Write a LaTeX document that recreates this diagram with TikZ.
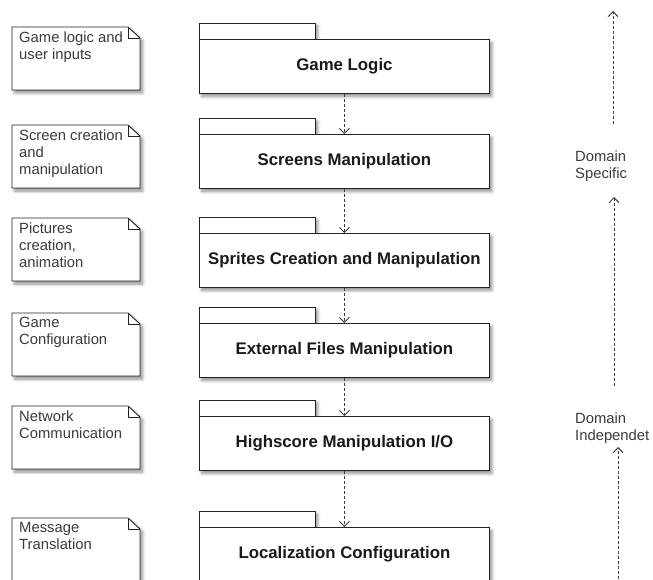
\documentclass[tikz,border=0pt]{standalone}
\usepackage{fontspec}
\setmainfont{Liberation Sans}
\usetikzlibrary{arrows.meta,shadows.blur}

\definecolor{edge}{HTML}{222222}
\definecolor{ink}{HTML}{1A1A1A}
\definecolor{notegray}{HTML}{3A3A3A}
\definecolor{flowgray}{HTML}{3C3C3C}

\tikzset{
  softshadow/.style={blur shadow={shadow xshift=2.5pt,shadow yshift=-3pt,
      shadow blur radius=3pt,shadow blur steps=8,shadow opacity=45}},
  pkgbody/.style={draw=edge,fill=white,line width=0.9pt,minimum width=290pt,
      minimum height=54pt,inner sep=0pt,anchor=north west,
      font=\fontsize{16.8}{20}\selectfont\bfseries,text=ink,softshadow},
  pkgtab/.style={draw=edge,fill=white,line width=0.9pt,softshadow},
  noteshape/.style={draw=edge,fill=white,line width=0.9pt,softshadow},
  notefold/.style={draw=edge,line width=0.9pt},
  notetext/.style={anchor=north west,inner sep=0pt,align=left,
      font=\fontsize{14.8}{17}\selectfont,text=notegray},
  sidelabel/.style={anchor=north west,inner sep=0pt,align=left,
      font=\fontsize{14.8}{17}\selectfont,text=notegray},
  dep/.style={draw=flowgray,line width=0.9pt,dash pattern=on 3pt off 2pt,
      -{Straight Barb[length=5pt,width=10pt,line width=0.9pt]}},
}

% UML package: #1 name, #2 left x, #3 top of the tab, #4 title
\newcommand\umlpackage[4]{%
  \draw[pkgtab] (#2,#3) rectangle ++(116,16);
  \node[pkgbody] (#1) at (#2,#3+16) {#4};
}
% UML note with folded corner: #1 name, #2 left x, #3 top y, #4 text
\newcommand\umlnote[4]{%
  \draw[noteshape] (#2,#3) -- ++(116,0) -- ++(12,11) -- ++(0,52) -- ++(-128,0) -- cycle;
  \draw[notefold] (#2+116,#3) |- ++(12,11);
  \node[notetext] (#1) at (#2+7,#3+4.3) {#4};
}

\begin{document}
\begin{tikzpicture}[x=1pt,y=-1pt]
  \useasboundingbox (0,0) rectangle (653,580);
  \clip (0,0) rectangle (653,580);

  % layered packages
  \umlpackage{gl}{199}{23}{Game Logic}
  \umlpackage{sm}{199}{118}{Screens Manipulation}
  \umlpackage{sp}{199}{217}{Sprites Creation and Manipulation}
  \umlpackage{ef}{199}{307}{External Files Manipulation}
  \umlpackage{hs}{199}{400}{Highscore Manipulation I/O}
  \umlpackage{lc}{199}{511}{Localization Configuration}

  % dependencies between layers
  \draw[dep] (gl.south) -- (sm.north);
  \draw[dep] (sm.south) -- (sp.north);
  \draw[dep] (sp.south) -- (ef.north);
  \draw[dep] (ef.south) -- (hs.north);
  \draw[dep] (hs.south) -- (lc.north);

  % notes describing each layer
  \umlnote{n1}{12}{27}{Game logic and\\user inputs}
  \umlnote{n2}{12}{125}{Screen creation\\and\\manipulation}
  \umlnote{n3}{12}{218}{Pictures\\creation,\\animation}
  \umlnote{n4}{12}{313}{Game\\Configuration}
  \umlnote{n5}{12}{406}{Network\\Communication}
  \umlnote{n6}{12}{518}{Message\\Translation}

  % domain axis
  \node[sidelabel] (ds) at (575,151) {Domain\\Specific};
  \node[sidelabel] (di) at (575,412.5) {Domain\\Independet};

  \coordinate (a1s) at (613,124);
  \coordinate (a1e) at (613,11);
  \coordinate (a2s) at (614,386);
  \coordinate (a2e) at (614,197);
  \coordinate (a3s) at (618,584);
  \coordinate (a3e) at (618,447);
  \draw[dep] (a1s) -- (a1e);
  \draw[dep] (a2s) -- (a2e);
  \draw[dep] (a3s) -- (a3e);
\end{tikzpicture}
\end{document}
